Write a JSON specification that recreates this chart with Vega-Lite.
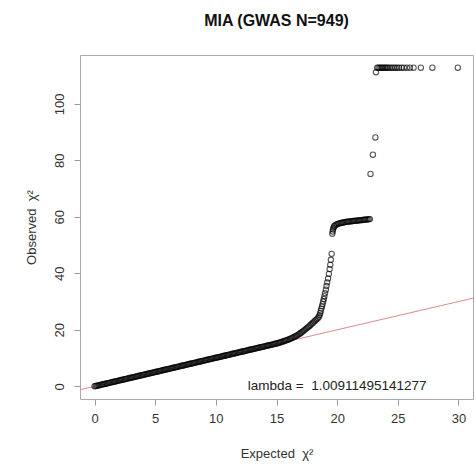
{
  "$schema": "https://vega.github.io/schema/vega-lite/v6.json",
  "width": 393,
  "height": 344,
  "autosize": {"type": "none"},
  "padding": {"left": 80, "top": 55, "right": 3, "bottom": 67},
  "background": "white",
  "title": {"text": "MIA (GWAS N=949)", "fontSize": 16, "fontWeight": "bold", "font": "Liberation Sans", "color": "#111", "anchor": "middle", "offset": 26},
  "config": {
    "view": {"stroke": "#aaaaaa", "strokeWidth": 1},
    "font": "Liberation Sans",
    "axis": {"grid": false, "domain": false, "tickSize": 6, "tickColor": "#999999", "labelFontSize": 13, "labelColor": "#333333", "titleFontSize": 13, "titleFontWeight": "normal", "titleColor": "#333333", "labelFont": "Liberation Sans", "titleFont": "Liberation Sans"}
  },
  "datasets": {
    "ref": [{"exp": -3, "obs": -3}, {"exp": 34, "obs": 34}],
    "lab": [{"exp": 20, "obs": 0, "label": "lambda =\u00a0 1.00911495141277"}],
    "pts": [
      {"exp":0,"obs":0},{"exp":0.1,"obs":0.1},{"exp":0.2,"obs":0.2},{"exp":0.3,"obs":0.3},{"exp":0.4,"obs":0.4},{"exp":0.5,"obs":0.51},{"exp":0.6,"obs":0.61},{"exp":0.7,"obs":0.71},{"exp":0.8,"obs":0.81},{"exp":0.9,"obs":0.91},
      {"exp":1.0,"obs":1.01},{"exp":1.1,"obs":1.11},{"exp":1.2,"obs":1.21},{"exp":1.3,"obs":1.31},{"exp":1.4,"obs":1.41},{"exp":1.5,"obs":1.52},{"exp":1.6,"obs":1.62},{"exp":1.7,"obs":1.72},{"exp":1.8,"obs":1.82},{"exp":1.9,"obs":1.92},
      {"exp":2.0,"obs":2.02},{"exp":2.1,"obs":2.12},{"exp":2.2,"obs":2.22},{"exp":2.3,"obs":2.32},{"exp":2.4,"obs":2.42},{"exp":2.5,"obs":2.53},{"exp":2.6,"obs":2.63},{"exp":2.7,"obs":2.73},{"exp":2.8,"obs":2.83},{"exp":2.9,"obs":2.93},
      {"exp":3.0,"obs":3.03},{"exp":3.1,"obs":3.13},{"exp":3.2,"obs":3.23},{"exp":3.3,"obs":3.33},{"exp":3.4,"obs":3.43},{"exp":3.5,"obs":3.54},{"exp":3.6,"obs":3.64},{"exp":3.7,"obs":3.74},{"exp":3.8,"obs":3.84},{"exp":3.9,"obs":3.94},
      {"exp":4.0,"obs":4.04},{"exp":4.1,"obs":4.14},{"exp":4.2,"obs":4.24},{"exp":4.3,"obs":4.34},{"exp":4.4,"obs":4.44},{"exp":4.5,"obs":4.55},{"exp":4.6,"obs":4.65},{"exp":4.7,"obs":4.75},{"exp":4.8,"obs":4.85},{"exp":4.9,"obs":4.95},
      {"exp":5.0,"obs":5.05},{"exp":5.1,"obs":5.15},{"exp":5.2,"obs":5.25},{"exp":5.3,"obs":5.35},{"exp":5.4,"obs":5.45},{"exp":5.5,"obs":5.56},{"exp":5.6,"obs":5.66},{"exp":5.7,"obs":5.76},{"exp":5.8,"obs":5.86},{"exp":5.9,"obs":5.96},
      {"exp":6.0,"obs":6.06},{"exp":6.1,"obs":6.16},{"exp":6.2,"obs":6.26},{"exp":6.3,"obs":6.36},{"exp":6.4,"obs":6.46},{"exp":6.5,"obs":6.57},{"exp":6.6,"obs":6.67},{"exp":6.7,"obs":6.77},{"exp":6.8,"obs":6.87},{"exp":6.9,"obs":6.97},
      {"exp":7.0,"obs":7.07},{"exp":7.1,"obs":7.17},{"exp":7.2,"obs":7.27},{"exp":7.3,"obs":7.37},{"exp":7.4,"obs":7.47},{"exp":7.5,"obs":7.58},{"exp":7.6,"obs":7.68},{"exp":7.7,"obs":7.78},{"exp":7.8,"obs":7.88},{"exp":7.9,"obs":7.98},
      {"exp":8.0,"obs":8.08},{"exp":8.1,"obs":8.18},{"exp":8.2,"obs":8.28},{"exp":8.3,"obs":8.38},{"exp":8.4,"obs":8.48},{"exp":8.5,"obs":8.59},{"exp":8.6,"obs":8.69},{"exp":8.7,"obs":8.79},{"exp":8.8,"obs":8.89},{"exp":8.9,"obs":8.99},
      {"exp":9.0,"obs":9.09},{"exp":9.1,"obs":9.19},{"exp":9.2,"obs":9.29},{"exp":9.3,"obs":9.39},{"exp":9.4,"obs":9.49},{"exp":9.5,"obs":9.6},{"exp":9.6,"obs":9.7},{"exp":9.7,"obs":9.8},{"exp":9.8,"obs":9.9},{"exp":9.9,"obs":10.0},
      {"exp":10.0,"obs":10.1},{"exp":10.1,"obs":10.2},{"exp":10.2,"obs":10.3},{"exp":10.3,"obs":10.4},{"exp":10.4,"obs":10.5},{"exp":10.5,"obs":10.61},{"exp":10.6,"obs":10.71},{"exp":10.7,"obs":10.81},{"exp":10.8,"obs":10.91},{"exp":10.9,"obs":11.01},
      {"exp":11.0,"obs":11.11},{"exp":11.1,"obs":11.21},{"exp":11.2,"obs":11.31},{"exp":11.3,"obs":11.41},{"exp":11.4,"obs":11.51},{"exp":11.5,"obs":11.62},{"exp":11.6,"obs":11.72},{"exp":11.7,"obs":11.82},{"exp":11.8,"obs":11.92},{"exp":11.9,"obs":12.02},
      {"exp":12.0,"obs":12.12},{"exp":12.1,"obs":12.22},{"exp":12.2,"obs":12.32},{"exp":12.3,"obs":12.42},{"exp":12.4,"obs":12.52},{"exp":12.5,"obs":12.63},{"exp":12.6,"obs":12.73},{"exp":12.7,"obs":12.83},{"exp":12.8,"obs":12.93},{"exp":12.9,"obs":13.03},
      {"exp":13.0,"obs":13.13},{"exp":13.1,"obs":13.23},{"exp":13.2,"obs":13.33},{"exp":13.3,"obs":13.43},{"exp":13.4,"obs":13.53},{"exp":13.5,"obs":13.64},{"exp":13.6,"obs":13.74},{"exp":13.7,"obs":13.84},{"exp":13.8,"obs":13.94},{"exp":13.9,"obs":14.04},
      {"exp":14.0,"obs":14.14},{"exp":14.1,"obs":14.24},{"exp":14.2,"obs":14.34},{"exp":14.3,"obs":14.44},{"exp":14.4,"obs":14.54},{"exp":14.5,"obs":14.65},{"exp":14.6,"obs":14.75},{"exp":14.7,"obs":14.85},{"exp":14.8,"obs":14.95},{"exp":14.9,"obs":15.05},
      {"exp":15.0,"obs":15.15},{"exp":15.1,"obs":15.27},{"exp":15.2,"obs":15.4},{"exp":15.3,"obs":15.53},{"exp":15.4,"obs":15.68},{"exp":15.5,"obs":15.82},{"exp":15.6,"obs":15.96},{"exp":15.7,"obs":16.1},{"exp":15.8,"obs":16.26},{"exp":15.9,"obs":16.42},
      {"exp":16.0,"obs":16.6},{"exp":16.1,"obs":16.78},{"exp":16.2,"obs":16.97},{"exp":16.3,"obs":17.16},{"exp":16.4,"obs":17.36},{"exp":16.5,"obs":17.57},{"exp":16.6,"obs":17.8},{"exp":16.7,"obs":18.04},{"exp":16.8,"obs":18.3},{"exp":16.9,"obs":18.58},
      {"exp":17.0,"obs":18.88},{"exp":17.1,"obs":19.2},{"exp":17.2,"obs":19.55},{"exp":17.3,"obs":19.9},{"exp":17.4,"obs":20.25},{"exp":17.5,"obs":20.6},{"exp":17.6,"obs":20.95},{"exp":17.7,"obs":21.3},{"exp":17.8,"obs":21.7},{"exp":17.9,"obs":22.1},
      {"exp":18.0,"obs":22.5},{"exp":18.1,"obs":22.9},{"exp":18.2,"obs":23.3},{"exp":18.3,"obs":23.7},{"exp":18.4,"obs":24.1},{"exp":18.5,"obs":24.6},{"exp":18.55,"obs":25.2},{"exp":18.6,"obs":25.9},{"exp":18.65,"obs":26.7},{"exp":18.7,"obs":27.5},
      {"exp":18.75,"obs":28.3},{"exp":18.8,"obs":29.1},{"exp":18.85,"obs":30.0},{"exp":18.9,"obs":30.9},{"exp":18.95,"obs":31.9},{"exp":19.0,"obs":33.0},{"exp":19.07,"obs":34.2},{"exp":19.12,"obs":35.5},{"exp":19.18,"obs":36.8},{"exp":19.25,"obs":38.2},
      {"exp":19.32,"obs":39.8},{"exp":19.38,"obs":41.5},{"exp":19.43,"obs":43.0},{"exp":19.48,"obs":44.8},{"exp":19.55,"obs":46.9},
      {"exp":19.6,"obs":54.0},{"exp":19.63,"obs":54.8},{"exp":19.66,"obs":55.5},{"exp":19.7,"obs":56.1},{"exp":19.75,"obs":56.6},{"exp":19.8,"obs":56.9},{"exp":19.9,"obs":57.2},{"exp":20.0,"obs":57.4},{"exp":20.1,"obs":57.6},{"exp":20.2,"obs":57.7},
      {"exp":20.3,"obs":57.8},{"exp":20.4,"obs":57.9},{"exp":20.5,"obs":58.0},{"exp":20.6,"obs":58.1},{"exp":20.7,"obs":58.2},{"exp":20.8,"obs":58.25},{"exp":20.9,"obs":58.3},{"exp":21.0,"obs":58.35},{"exp":21.1,"obs":58.4},{"exp":21.2,"obs":58.45},
      {"exp":21.3,"obs":58.5},{"exp":21.4,"obs":58.55},{"exp":21.5,"obs":58.6},{"exp":21.6,"obs":58.65},{"exp":21.7,"obs":58.7},{"exp":21.8,"obs":58.75},{"exp":21.9,"obs":58.8},{"exp":22.0,"obs":58.85},{"exp":22.1,"obs":58.9},{"exp":22.2,"obs":58.95},
      {"exp":22.3,"obs":59.0},{"exp":22.4,"obs":59.05},{"exp":22.5,"obs":59.1},{"exp":22.6,"obs":59.15},{"exp":22.7,"obs":59.2},
      {"exp":22.75,"obs":75.2},{"exp":22.95,"obs":82.0},{"exp":23.15,"obs":88.1},
      {"exp":23.2,"obs":111.2},{"exp":23.3,"obs":112.8},{"exp":23.4,"obs":112.8},{"exp":23.5,"obs":112.8},{"exp":23.6,"obs":112.8},{"exp":23.7,"obs":112.8},{"exp":23.8,"obs":112.8},{"exp":23.9,"obs":112.8},{"exp":24.0,"obs":112.8},{"exp":24.1,"obs":112.8},
      {"exp":24.2,"obs":112.8},{"exp":24.35,"obs":112.8},{"exp":24.5,"obs":112.8},{"exp":24.65,"obs":112.8},{"exp":24.8,"obs":112.8},{"exp":24.95,"obs":112.8},{"exp":25.1,"obs":112.8},{"exp":25.3,"obs":112.8},{"exp":25.5,"obs":112.8},{"exp":25.75,"obs":112.8},
      {"exp":26.0,"obs":112.8},{"exp":26.3,"obs":112.8},{"exp":26.9,"obs":112.8},{"exp":27.85,"obs":112.8},{"exp":29.95,"obs":112.8}
    ]
  },
  "encoding": {
    "x": {"field": "exp", "type": "quantitative", "scale": {"domain": [-1.2, 31.2], "nice": false, "zero": false},
          "axis": {"values": [0, 5, 10, 15, 20, 25, 30], "labelPadding": 7, "title": "Expected\u00a0 χ²", "titlePadding": 22}},
    "y": {"field": "obs", "type": "quantitative", "scale": {"domain": [-4.5, 117.3], "nice": false, "zero": false},
          "axis": {"values": [0, 20, 40, 60, 80, 100], "labelAngle": 270, "labelAlign": "center", "labelBaseline": "bottom", "labelPadding": 8, "title": "Observed\u00a0 χ²", "titlePadding": 15}}
  },
  "layer": [
    {"data": {"name": "ref"}, "mark": {"type": "line", "color": "#d98a8f", "strokeWidth": 1, "clip": true}},
    {"data": {"name": "pts"}, "mark": {"type": "point", "shape": "circle", "filled": false, "size": 28, "strokeWidth": 1.1, "color": "#000000", "opacity": 0.65}},
    {"data": {"name": "lab"}, "mark": {"type": "text", "fontSize": 13.5, "color": "#222222", "font": "Liberation Sans"}, "encoding": {"text": {"field": "label"}}}
  ]
}
